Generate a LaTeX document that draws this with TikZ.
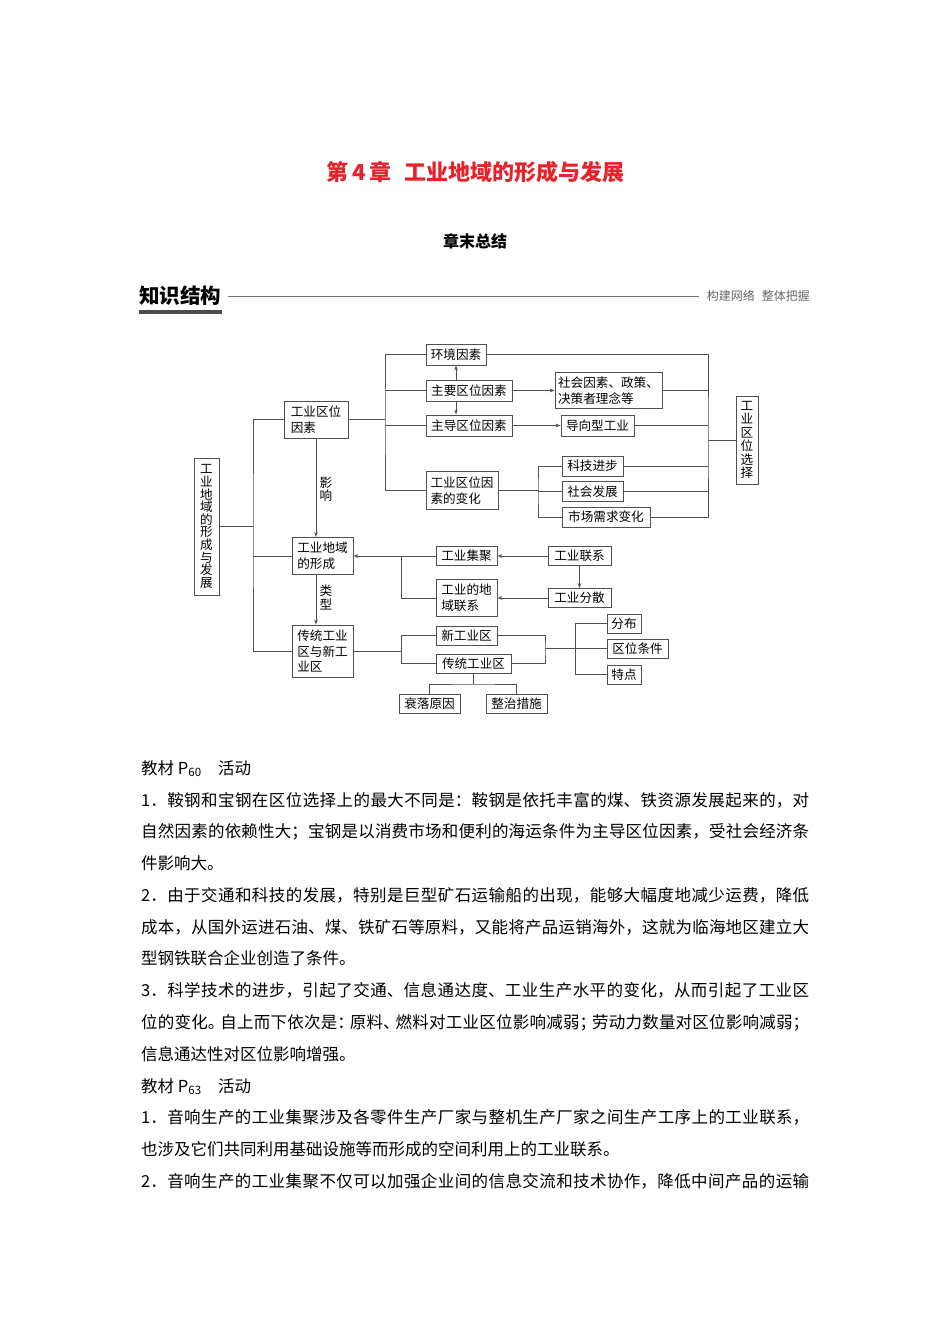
\documentclass[tikz,border=0pt]{standalone}
\usepackage{fontspec}
\setmainfont{Noto Sans CJK SC}
\usetikzlibrary{arrows.meta}
\XeTeXlinebreaklocale "zh"
\XeTeXlinebreakskip=0pt plus 3pt
\definecolor{linec}{HTML}{505050}
\definecolor{titlered}{HTML}{E8222A}
\begin{document}
\begin{tikzpicture}[x=1pt,y=-1pt,
  nbox/.style={draw=linec, line width=0.9pt, inner sep=0pt, font=\fontsize{12.6}{15.8}\selectfont, align=left},
  vbox/.style={draw=linec, line width=0.9pt, inner sep=0pt, align=center},
  conn/.style={draw=linec, line width=0.9pt},
  arr/.style={conn, -{Stealth[length=5pt,width=3.6pt]}},
  lbl/.style={inner sep=0pt, font=\fontsize{12.6}{13.2}\selectfont, align=center}]
\path[use as bounding box] (0,0) rectangle (950,1344);
\fill[white] (0,0) rectangle (950,1344);

% header
\node[text=titlered, font=\fontsize{22}{22}\selectfont\bfseries, inner sep=0pt] (title) at (475.5,172) {第\hspace{4pt}4\hspace{4pt}章\hspace{13pt}工业地域的形成与发展};
\node[font=\fontsize{16}{16}\selectfont\bfseries, inner sep=0pt] (sub) at (475,241) {章末总结};
\node[font=\fontsize{20.5}{20.5}\selectfont\bfseries, inner sep=0pt, anchor=west] (zs) at (139,296) {知识结构};
\fill[black!70] (139,310) rectangle (222,314);
\node[font=\fontsize{12}{12}\selectfont, text=black!60, inner sep=0pt, anchor=east] (gj) at (810,296) {构建网络\hspace{7pt}整体把握};
\draw[black!55, line width=0.8pt] ([xshift=7pt]zs.east) -- ([xshift=-8pt]gj.west);

% diagram nodes
\node[vbox, font=\fontsize{12.6}{12.6}\selectfont, minimum width=25, minimum height=137] (lf) at (206.5,526.5) {工\\业\\地\\域\\的\\形\\成\\与\\发\\展};
\node[nbox, minimum width=64, minimum height=37] (ys) at (316,419.5) {工业区位\\因素};
\node[nbox, minimum width=60, minimum height=21] (hj) at (456,354.5) {环境因素};
\node[nbox, minimum width=86, minimum height=21] (zy) at (469,390.5) {主要区位因素};
\node[nbox, minimum width=86, minimum height=21] (zd) at (469,425.5) {主导区位因素};
\node[nbox, minimum width=72, minimum height=38] (bh) at (462,490.5) {工业区位因\\素的变化};
\node[nbox, minimum width=107, minimum height=36] (sh) at (608.5,390.5) {社会因素、政策、\\决策者理念等};
\node[nbox, minimum width=73, minimum height=21] (dx) at (597.5,425.5) {导向型工业};
\node[nbox, minimum width=61, minimum height=20] (kj) at (592.5,466) {科技进步};
\node[nbox, minimum width=61, minimum height=20] (shfz) at (592.5,491.5) {社会发展};
\node[nbox, minimum width=88, minimum height=20] (sc) at (606,517) {市场需求变化};
\node[vbox, font=\fontsize{12.6}{13.4}\selectfont, minimum width=22, minimum height=88] (xz) at (747,440) {工\\业\\区\\位\\选\\择};
\node[nbox, minimum width=61, minimum height=37] (xc) at (322.5,556) {工业地域\\的形成};
\node[nbox, minimum width=61, minimum height=52] (ct) at (322.5,651) {传统工业\\区与新工\\业区};
\node[nbox, minimum width=61, minimum height=19] (jj) at (466.5,556) {工业集聚};
\node[nbox, minimum width=61, minimum height=37] (dy) at (466.5,598) {工业的地\\域联系};
\node[nbox, minimum width=63, minimum height=19] (lx) at (579.5,556) {工业联系};
\node[nbox, minimum width=63, minimum height=19] (fs) at (579.5,598) {工业分散};
\node[nbox, minimum width=61, minimum height=19] (xg) at (466.5,635.5) {新工业区};
\node[nbox, minimum width=75, minimum height=19] (cg) at (473.5,663.5) {传统工业区};
\node[nbox, minimum width=61, minimum height=19] (sl) at (429.5,703.5) {衰落原因};
\node[nbox, minimum width=61, minimum height=19] (zz) at (516.5,703.5) {整治措施};
\node[nbox, minimum width=34, minimum height=19] (fb) at (624,623.5) {分布};
\node[nbox, minimum width=61, minimum height=19] (qw) at (637.5,648.5) {区位条件};
\node[nbox, minimum width=34, minimum height=19] (td) at (624,674.5) {特点};

% connectors
\coordinate (L) at (253,526.5);
\draw[conn] (lf.east) -- (L);
\draw[conn] (ys.west) -| (L) |- (ct.west);
\draw[conn] (xc.west) -- (xc.west -| L);

\coordinate (U) at (385,419.5);
\draw[conn] (ys.east) -- (U);
\draw[conn] (hj.west) -| (U) |- (bh.west);
\draw[conn] (zy.west) -- (zy.west -| U);
\draw[conn] (zd.west) -- (zd.west -| U);

\draw[arr] (hj.south |- zy.north) -- (hj.south);
\draw[arr] (hj.south |- zy.south) -- (hj.south |- zd.north);
\draw[arr] (zy.east) -- (zy.east -| sh.west);
\draw[arr] (zd.east) -- (dx.west);

\coordinate (V) at (538,490.5);
\draw[conn] (bh.east) -- (V);
\draw[conn] (kj.west) -| (V) |- (sc.west);
\draw[conn] (shfz.west) -- (shfz.west -| V);

\coordinate (R) at (708,440);
\draw[conn] (hj.east) -| (R) |- (sc.east);
\foreach \n in {sh,dx,kj,shfz} \draw[conn] (\n.east) -- (\n.east -| R);
\draw[conn] (R) -- (xz.west);

\draw[arr] (ys.south) -- (ys.south |- xc.north);
\node[lbl] (lb1) at (326,489.5) {影\\响};
\draw[arr] (ys.south |- xc.south) -- (ys.south |- ct.north);
\node[lbl] (lb2) at (326,597.5) {类\\型};

\coordinate (M) at (401.7,556);
\draw[arr] (jj.west) -- (jj.west -| xc.east);
\draw[conn] (dy.west) -| (M);
\draw[arr] (lx.west) -- (jj.east);
\draw[arr] (lx.south) -- (lx.south |- fs.north);
\draw[arr] (fs.west) -- (fs.west -| dy.east);

\coordinate (N) at (401.7,651);
\draw[conn] (ct.east) -- (N);
\draw[conn] (xg.west) -| (N) |- (cg.west);

\coordinate (T) at (473.5,684);
\draw[conn] (cg.south) -- (T);
\draw[conn] (sl.north) |- (T) -| (zz.north);

\coordinate (P) at (545,648.5);
\draw[conn] (xg.east) -| (P) |- (cg.east);
\coordinate (Q) at (575.7,648.5);
\draw[conn] (P) -- (qw.west);
\draw[conn] (fb.west) -| (Q) |- (td.west);

% body text
\node[anchor=base west, text width=668pt, align=justify, inner sep=0pt, font=\fontsize{16.5}{31.77}\selectfont] (body) at (141,774.3) {%
教材 P\textsubscript{60}\quad 活动\par
1．鞍钢和宝钢在区位选择上的最大不同是：鞍钢是依托丰富的煤、铁资源发展起来的，对\linebreak 自然因素的依赖性大；宝钢是以消费市场和便利的海运条件为主导区位因素，受社会经济条\linebreak 件影响大。\par
2．由于交通和科技的发展，特别是巨型矿石运输船的出现，能够大幅度地减少运费，降低\linebreak 成本，从国外运进石油、煤、铁矿石等原料，又能将产品运销海外，这就为临海地区建立大\linebreak 型钢铁联合企业创造了条件。\par
3．科学技术的进步，引起了交通、信息通达度、工业生产水平的变化，从而引起了工业区\linebreak 位的变化。\kern-4pt 自上而下依次是：\kern-4pt 原料、\kern-4pt 燃料对工业区位影响减弱；\kern-4pt 劳动力数量对区位影响减弱；\linebreak 信息通达性对区位影响增强。\par
教材 P\textsubscript{63}\quad 活动\par
1．音响生产的工业集聚涉及各零件生产厂家与整机生产厂家之间生产工序上的工业联系，\linebreak 也涉及它们共同利用基础设施等而形成的空间利用上的工业联系。\par
2．音响生产的工业集聚不仅可以加强企业间的信息交流和技术协作，降低中间产品的运输{\parfillskip=0pt\par}};
\end{tikzpicture}
\end{document}
